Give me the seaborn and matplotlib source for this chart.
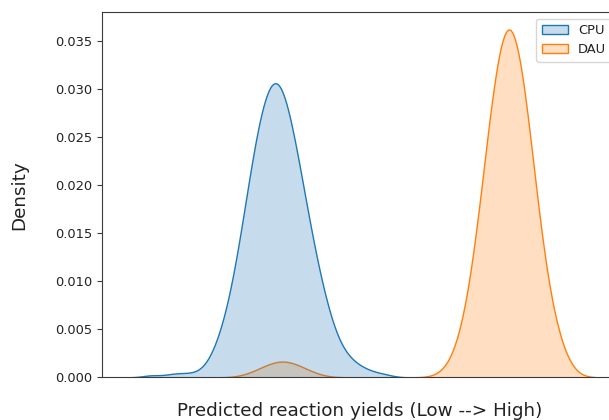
import numpy as np
import pandas as pd
import matplotlib
matplotlib.use("Agg")
import matplotlib.pyplot as plt
import seaborn as sns

# Predicted yields (%) grouped into bins, with the number of reactions per bin
cpu_yield_bins = [11, 15, 17, 19, 21, 23, 25, 27, 29, 31, 33,
                  35, 37, 39, 41, 43, 45, 47, 49, 51, 53,
                  55, 57, 59, 61]
cpu_counts = [1, 1, 1, 1, 1, 3, 8, 15, 26, 40, 55,
              66, 72, 70, 60, 48, 35, 24, 15, 8, 5,
              3, 2, 1, 1]

dau_yield_bins = [33, 36, 39, 42, 45,
                  75.5, 78.5, 81.5, 84.5, 87.5, 90.5, 93.5, 97.2]
dau_counts = [2, 5, 7, 5, 2,
              4, 20, 60, 116, 145, 116, 60, 22]

models = ["CPU", "DAU"]
xlabel = "Predicted reaction yields (Low --> High)"
ylabel = "Density"

# One row per reaction, expanded from the binned counts
df = pd.concat([
    pd.DataFrame({"yield": np.repeat(cpu_yield_bins, cpu_counts), "model": "CPU"}),
    pd.DataFrame({"yield": np.repeat(dau_yield_bins, dau_counts), "model": "DAU"}),
], ignore_index=True)

edge = "#3a3a3a"
plt.rcParams.update({
    "axes.edgecolor": edge,
    "xtick.color": edge,
    "ytick.color": edge,
    "ytick.labelcolor": "#222222",
    "axes.labelcolor": "#222222",
    "text.color": "#222222",
})

fig = plt.figure(figsize=(6.09, 4.20), dpi=100)
ax = fig.add_axes([0.1675, 0.1017, 0.8473, 0.8697])

sns.kdeplot(data=df, x="yield", hue="model", hue_order=models,
            fill=True, ax=ax)

ax.set_xticks([])
ax.set_xlabel(xlabel, fontsize=13.2, labelpad=18)
ax.set_ylabel(ylabel, fontsize=13.2, labelpad=19)
ax.tick_params(axis="y", labelsize=9.4)
sns.move_legend(ax, "upper right", title=None, fontsize=9.4)

fig.savefig("out.png", dpi=100)
